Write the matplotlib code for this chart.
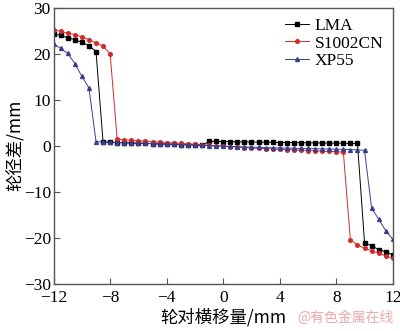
import matplotlib
matplotlib.use("Agg")
import matplotlib.pyplot as plt

# ========== данные ==========
x = [-12, -11.5, -11, -10.5, -10, -9.5, -9, -8.5, -8, -7.5, -7, -6.5, -6,
     -5.5, -5, -4.5, -4, -3.5, -3, -2.5, -2, -1.5, -1, -0.5, 0, 0.5, 1,
     1.5, 2, 2.5, 3, 3.5, 4, 4.5, 5, 5.5, 6, 6.5, 7, 7.5, 8, 8.5, 9, 9.5,
     10, 10.5, 11, 11.5, 12]

lma = [24.4, 24.0, 23.5, 23.1, 22.5, 21.8, 20.5, 0.8, 0.75, 0.7, 0.65, 0.6,
       0.55, 0.5, 0.45, 0.4, 0.35, 0.3, 0.25, 0.2, 0.15, 0.1, 0.95, 0.95,
       0.9, 0.9, 0.85, 0.85, 0.8, 0.8, 0.75, 0.75, 0.7, 0.7, 0.7, 0.65,
       0.65, 0.6, 0.6, 0.6, 0.55, 0.55, 0.5, 0.5, -21.1, -21.8, -22.6,
       -23.1, -23.8]

s1002cn = [25.3, 24.9, 24.5, 24.2, 23.7, 23.1, 22.4, 21.7, 20.0, 1.4, 1.3,
           1.2, 1.1, 1.0, 0.9, 0.8, 0.7, 0.6, 0.5, 0.4, 0.3, 0.2, 0.1, 0.0,
           -0.1, -0.2, -0.3, -0.4, -0.5, -0.6, -0.65, -0.7, -0.8, -0.85,
           -0.9, -1.0, -1.05, -1.1, -1.2, -1.25, -1.3, -1.4, -20.5, -21.6,
           -22.3, -22.9, -23.4, -24.0, -24.5]

xp55 = [22.2, 21.2, 20.1, 17.9, 15.1, 12.6, 0.9, 0.8, 0.75, 0.7, 0.65, 0.6,
        0.55, 0.5, 0.45, 0.4, 0.35, 0.3, 0.25, 0.2, 0.15, 0.1, 0.0, -0.05,
        -0.1, -0.15, -0.2, -0.25, -0.3, -0.35, -0.4, -0.45, -0.5, -0.5,
        -0.55, -0.6, -0.6, -0.65, -0.7, -0.7, -0.75, -0.8, -0.85, -0.9,
        -1.0, -13.6, -16.0, -18.5, -20.4]

xticks = [-12, -8, -4, 0, 4, 8, 12]
yticks = [-30, -20, -10, 0, 10, 20, 30]
# ============================

plt.rcParams["font.family"] = ["Liberation Serif", "Noto Sans CJK SC"]

fig = plt.figure(figsize=(4.0, 3.31), dpi=100)
ax = fig.add_axes([0.134, 0.1435, 0.848, 0.8325])

ax.plot(x, lma, color="black", marker="s", ms=2.4, lw=0.7, label="LMA")
ax.plot(x, s1002cn, color="#d42a2a", marker="o", ms=2.6, lw=0.7, label="S1002CN")
ax.plot(x, xp55, color="#3a3f8c", marker="^", ms=2.8, lw=0.7, label="XP55")

ax.set_xlim(-12, 12)
ax.set_ylim(-30, 30)
ax.set_xticks(xticks)
ax.set_yticks(yticks)
ax.set_xticklabels([str(t).replace("-", "\u2212") for t in xticks])
ax.set_yticklabels([str(t).replace("-", "\u2212") for t in yticks])
ax.tick_params(direction="in", length=4, width=0.8, labelsize=12.5,
               color="#555555")
ax.tick_params(axis="x", pad=5)
ax.tick_params(axis="y", pad=2)

for s in ax.spines.values():
    s.set_color("#555555")
    s.set_linewidth(1.0)

ax.set_xlabel("轮对横移量/mm", fontsize=12.5, labelpad=1,
              family=["Noto Sans CJK SC", "Liberation Serif"])
ax.set_ylabel("轮径差/mm", fontsize=12.5, labelpad=-1,
              family=["Noto Sans CJK SC", "Liberation Serif"])

ax.legend(loc="upper right", frameon=False, fontsize=12.5, handlelength=1.4,
          handletextpad=0.3, labelspacing=0.1, borderaxespad=0.15)

fig.text(0.985, 0.02, "@有色金属在线", color="#f0a8a8", fontsize=10,
         ha="right", va="bottom", family=["Noto Sans CJK SC", "DejaVu Sans"])

fig.savefig("out.png", dpi=100)
